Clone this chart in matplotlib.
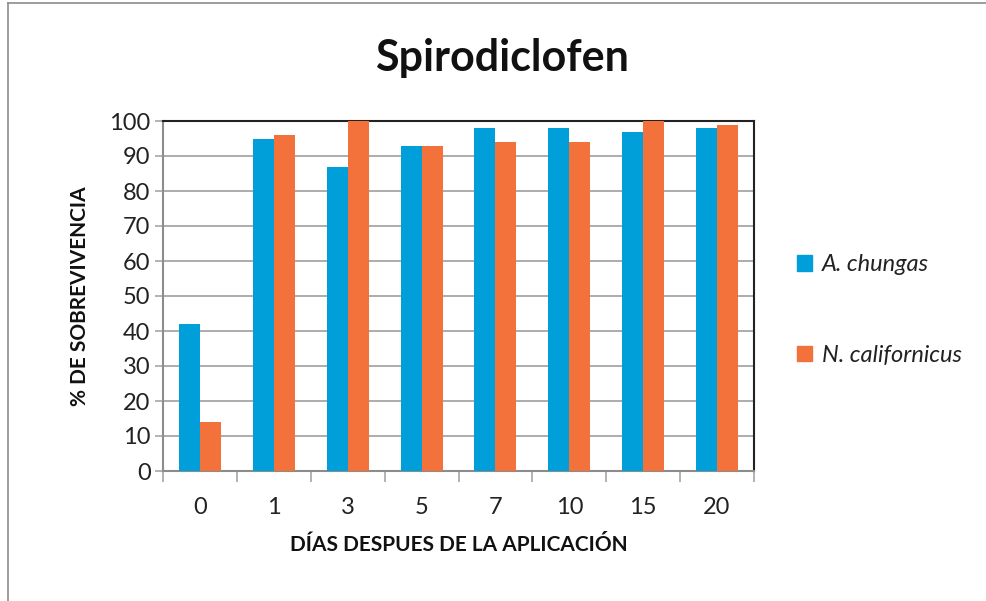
import matplotlib.pyplot as plt
import numpy as np
from matplotlib.lines import Line2D
from matplotlib.patches import Patch

plt.rcParams['font.family'] = ['Lato', 'DejaVu Sans']

# data
dias = ['0', '1', '3', '5', '7', '10', '15', '20']
a_chungas = [42, 95, 87, 93, 98, 98, 97, 98]
n_californicus = [14, 96, 100, 93, 94, 94, 100, 99]

blue = '#009FDA'
orange = '#F3723C'
grid_gray = '#A6A6A6'

fig = plt.figure(figsize=(9.86, 6.01), dpi=100)
ax = fig.add_axes([163/986, 1 - 471/601, (754-163)/986, (471-121)/601])

x = np.arange(len(dias))
w = 0.284
ax.bar(x - w/2, a_chungas, w, color=blue, zorder=3)
ax.bar(x + w/2, n_californicus, w, color=orange, zorder=3)

ax.set_xlim(-0.5, len(dias) - 0.5)
ax.set_ylim(0, 100)
ax.set_yticks(range(0, 101, 10))
ax.yaxis.grid(True, color=grid_gray, linewidth=1.3, zorder=0)
ax.set_axisbelow(True)

# category boundary ticks on the x axis
ax.set_xticks(np.arange(-0.5, len(dias)), minor=False)
ax.set_xticklabels([])
ax.set_xticks(x, minor=True)
ax.set_xticklabels(dias, minor=True)
ax.tick_params(axis='x', which='major', length=8, color=grid_gray, width=1.2)
ax.tick_params(axis='x', which='minor', length=0, pad=19, labelsize=17, labelcolor='#222222')
ax.tick_params(axis='y', length=6, color=grid_gray, width=1.2, pad=3, labelsize=17, labelcolor='#222222')

for s in ['left', 'bottom']:
    ax.spines[s].set_color('#8C8C8C')
    ax.spines[s].set_linewidth(1.5)
for s in ['top', 'right']:
    ax.spines[s].set_color('#222222')
    ax.spines[s].set_linewidth(1.5)

ax.set_xlabel('DÍAS DESPUES DE LA APLICACIÓN', fontsize=15, fontweight='bold',
              color='#111111', labelpad=12)
ax.set_ylabel('% DE SOBREVIVENCIA', fontsize=15, fontweight='bold',
              color='#111111', labelpad=14)

fig.text(502/986, 1 - 58/601, 'Spirodiclofen', ha='center', va='center',
         fontsize=31, fontweight='bold', color='#111111')

# legend
handles = [Patch(color=blue), Patch(color=orange)]
leg = fig.legend(handles, ['A. chungas', 'N. californicus'],
                 loc='center left', bbox_to_anchor=(797/986, 1 - 310/601),
                 frameon=False, handlelength=0.65, handleheight=0.65,
                 handletextpad=0.4, labelspacing=2.95, borderpad=0,
                 borderaxespad=0, prop={'size': 17, 'style': 'italic'})
for t in leg.get_texts():
    t.set_color('#222222')

# outer chart border
fig.add_artist(Line2D([8/986, 8/986], [0, 1 - 3/601], transform=fig.transFigure,
                      color='#8C8C8C', linewidth=1.2))
fig.add_artist(Line2D([8/986, 1], [1 - 3/601, 1 - 3/601], transform=fig.transFigure,
                      color='#8C8C8C', linewidth=1.2))

fig.savefig('out.png', dpi=100)
